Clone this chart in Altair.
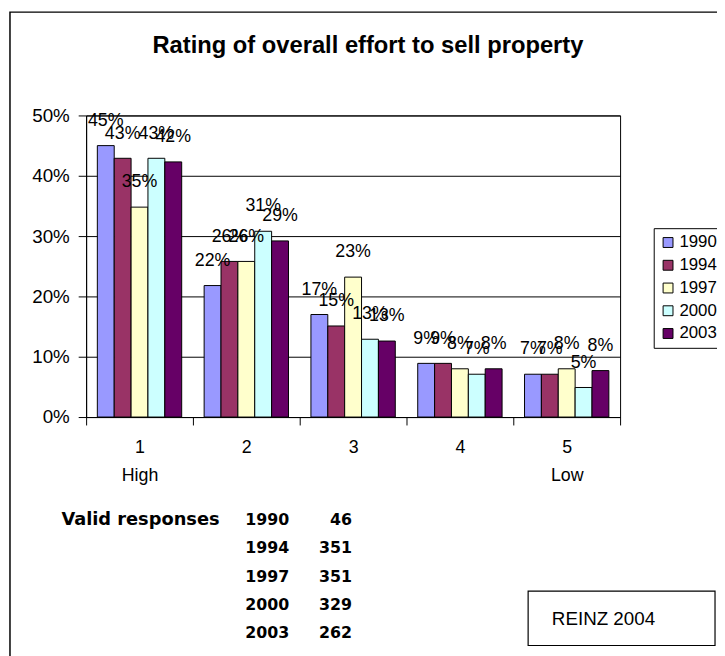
import altair as alt
import pandas as pd

# ---- data ----
categories = ["1", "2", "3", "4", "5"]
category_notes = ["High", "", "", "", "Low"]
years = ["1990", "1994", "1997", "2000", "2003"]
colors = ["#9999FF", "#993366", "#FFFFCC", "#CCFFFF", "#660066"]
v1990 = [45.0, 21.8, 17.0, 8.9, 7.1]
v1994 = [42.9, 25.8, 15.1, 8.9, 7.1]
v1997 = [34.8, 25.8, 23.2, 8.0, 8.0]
v2000 = [42.9, 30.8, 12.9, 7.1, 4.9]
v2003 = [42.3, 29.2, 12.6, 8.0, 7.7]
resp_years = ["1990", "1994", "1997", "2000", "2003"]
resp_counts = ["46", "351", "351", "329", "262"]
title_text = "Rating of overall effort to sell property"
source_text = "REINZ 2004"

series = dict(zip(years, [v1990, v1994, v1997, v2000, v2003]))
rows = []
for y, vals in series.items():
    for c, v in zip(categories, vals):
        rows.append({"cat": c, "year": y, "value": v})
df = pd.DataFrame(rows)

FONT = "Liberation Sans"
W, H = 540, 305

label_expr = " : ".join(
    f"datum.value == '{c}' ? ['{c}', '{n}']" for c, n in zip(categories, category_notes) if n
) + " : datum.value"

base = alt.Chart(df).encode(
    x=alt.X("cat:N", sort=categories,
            scale=alt.Scale(paddingInner=0, paddingOuter=0),
            axis=alt.Axis(title=None, labelAngle=0, tickBand="extent", tickSize=8,
                          labelFontSize=18, labelPadding=14, labelLineHeight=28,
                          labelExpr=label_expr, grid=False)),
    xOffset=alt.XOffset("year:N", sort=years,
                        scale=alt.Scale(paddingInner=0, paddingOuter=0.665)),
    y=alt.Y("value:Q", scale=alt.Scale(domain=[0, 50]),
            axis=alt.Axis(title=None, values=[0, 10, 20, 30, 40, 50],
                          labelExpr="datum.value + '%'", tickSize=8,
                          labelFontSize=19, labelPadding=9, grid=True)),
)

bars = base.mark_bar(stroke="black", strokeWidth=1).encode(
    fill=alt.Fill("year:N", sort=years,
                  scale=alt.Scale(domain=years, range=colors),
                  legend=alt.Legend(title=None, orient="none", legendX=574, legendY=114,
                                    fillColor="white", strokeColor="black", padding=6,
                                    labelFontSize=17, symbolType="square", symbolSize=100,
                                    symbolStrokeColor="black", symbolStrokeWidth=1,
                                    rowPadding=5, labelOffset=3))
)

labels = base.mark_text(dy=-20, baseline="alphabetic", fontSize=18, font=FONT,
                        color="black").encode(
    text=alt.Text("lbl:N")
).transform_calculate(lbl="format(round(datum.value), 'd') + '%'")

one = pd.DataFrame({"k": [0]})

frame = alt.Chart(one).mark_rect(fill=None, stroke="black", strokeWidth=1.5).encode(
    x=alt.value(-77), x2=alt.value(700), y=alt.value(-104.5), y2=alt.value(700))

title = alt.Chart(one).mark_text(text=title_text, font=FONT, fontWeight="bold",
                                 fontSize=24, baseline="middle", align="center",
                                 color="black").encode(
    x=alt.value(285), y=alt.value(-70))

valid = alt.Chart(one).mark_text(text="Valid responses", font="DejaVu Sans", fontWeight="bold",
                                 fontSize=18, baseline="middle", align="left",
                                 color="black").encode(
    x=alt.value(-25), y=alt.value(409))

yrs = alt.Chart(one).mark_text(text=resp_years, font="DejaVu Sans", fontWeight="bold",
                               fontSize=16, baseline="middle", align="left", lineHeight=28.7,
                               color="black").encode(
    x=alt.value(161), y=alt.value(409))

cnts = alt.Chart(one).mark_text(text=resp_counts, font="DejaVu Sans", fontWeight="bold",
                                fontSize=16, baseline="middle", align="right", lineHeight=28.7,
                                color="black").encode(
    x=alt.value(269), y=alt.value(409))

src_box = alt.Chart(one).mark_rect(fill="white", stroke="black", strokeWidth=1.2).encode(
    x=alt.value(447), x2=alt.value(636), y=alt.value(481), y2=alt.value(536))

src = alt.Chart(one).mark_text(text=source_text, font=FONT, fontSize=19, baseline="middle",
                               align="left", color="black").encode(
    x=alt.value(471), y=alt.value(509))

chart = alt.layer(frame, bars, labels, title, valid, yrs, cnts, src_box, src).properties(
    width=W, height=H,
    autosize=alt.AutoSizeParams(type="none"),
    padding={"left": 79, "top": 105, "right": 98, "bottom": 240},
).configure(font=FONT).configure_view(
    stroke="black", strokeWidth=1
).configure_axis(
    domainColor="black", tickColor="black", gridColor="black", gridWidth=1,
    labelColor="black", labelFont=FONT
).configure_legend(labelFont=FONT, labelColor="black")

chart.save("out.html", embed_options={"renderer": "svg", "actions": False})
